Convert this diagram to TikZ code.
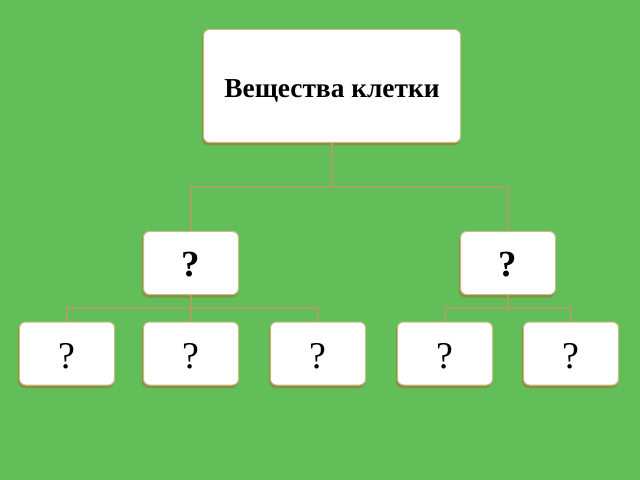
\documentclass[tikz,border=0pt]{standalone}
\usepackage{fontspec}
\setmainfont{Liberation Serif}
\definecolor{bg}{HTML}{62BE58}
\definecolor{linec}{HTML}{AC9F62}
\definecolor{boxedge}{HTML}{C8BD84}
\definecolor{shadowc}{HTML}{8A8F45}
\newcommand{\lowq}[1]{\raisebox{#1}[0pt][0pt]{?}}
\begin{document}
\begin{tikzpicture}[x=1bp,y=-1bp,
  card/.style={draw=boxedge,line width=1bp,fill=white,rounded corners=6bp,
    minimum width=95bp,minimum height=63bp,inner sep=0pt,
    font=\fontsize{38}{38}\selectfont,
    preaction={fill=shadowc,draw=shadowc,line width=1bp,transform canvas={xshift=-1bp,yshift=-2.5bp}}},
  conn/.style={draw=linec,line width=2bp}]
\fill[bg] (0,0) rectangle (640,480);
\useasboundingbox (0,0) rectangle (640,480);
\node[card,minimum width=257bp,minimum height=113bp,font=\fontsize{27.5}{27.5}\selectfont\bfseries] (top) at (332,86) {\raisebox{-12pt}[0pt][0pt]{Вещества клетки}};
\node[card,font=\fontsize{37}{37}\selectfont\bfseries] (L) at (191,263) {\lowq{-14pt}};
\node[card,font=\fontsize{37}{37}\selectfont\bfseries] (R) at (508,263) {\lowq{-14pt}};
\node[card] (a) at (67,353.5) {\lowq{-15.5pt}};
\node[card] (b) at (191,353.5) {\lowq{-15.5pt}};
\node[card] (c) at (318,353.5) {\lowq{-15.5pt}};
\node[card] (d) at (445,353.5) {\lowq{-15.5pt}};
\node[card] (e) at (571,353.5) {\lowq{-15.5pt}};
\draw[conn] (top.south) -- ++(0,44) -| (L.north);
\draw[conn] (top.south) ++(0,44) -| (R.north);
\draw[conn] (L.south) -- ++(0,13) -| (a.north);
\draw[conn] (L.south) ++(0,13) -| (c.north);
\draw[conn] (L.south) -- (b.north);
\draw[conn] (R.south) -- ++(0,13) -| (d.north);
\draw[conn] (R.south) ++(0,13) -| (e.north);
\end{tikzpicture}
\end{document}
